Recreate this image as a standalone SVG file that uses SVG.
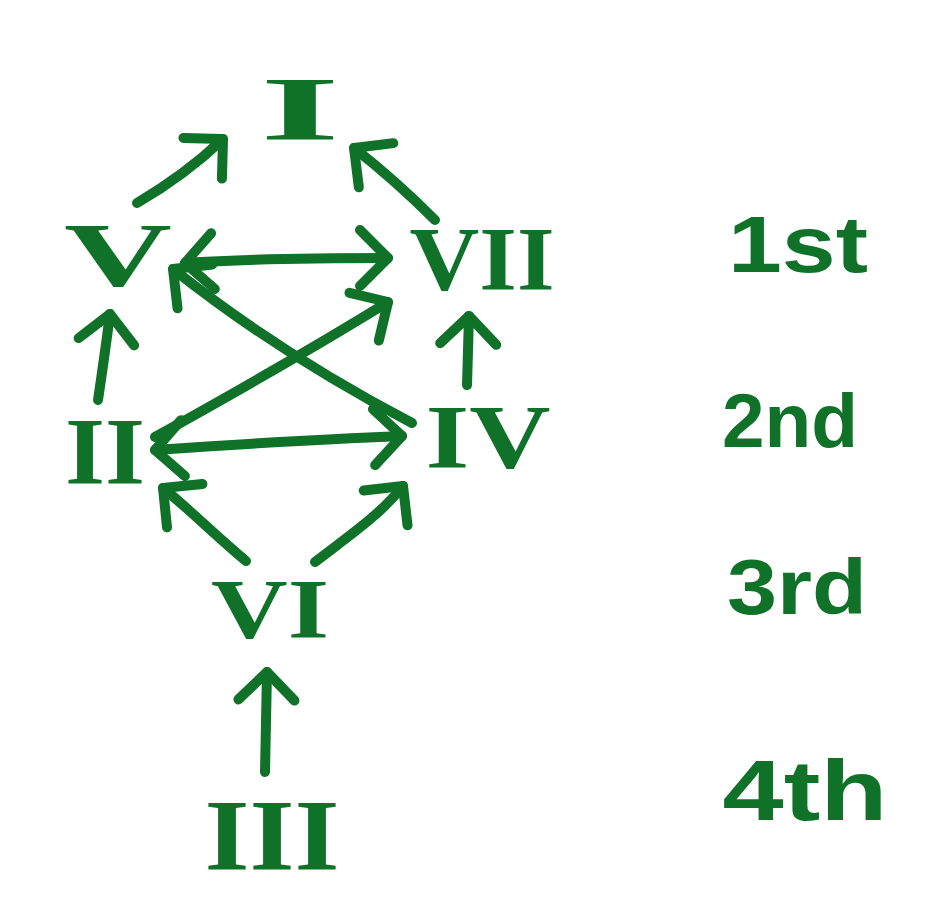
<svg xmlns="http://www.w3.org/2000/svg" width="930" height="922" viewBox="0 0 930 922">
<defs>
<style>
.bg{fill:#ffffff}
.edge{fill:none;stroke:#107229;stroke-width:10;stroke-linecap:round;stroke-linejoin:round;marker-end:url(#ah)}
.both{marker-start:url(#ah)}
.num{font-family:"Liberation Serif","Times New Roman",serif;font-weight:bold;fill:#107229;text-anchor:middle}
.ord{font-family:"Liberation Sans",Arial,sans-serif;font-weight:bold;fill:#107229;text-anchor:middle}
</style>
<marker id="ah" markerUnits="userSpaceOnUse" viewBox="-35 -35 45 70" markerWidth="45" markerHeight="70" refX="0" refY="0" orient="auto-start-reverse" overflow="visible">
<path d="M-28,-28 L0,0 L-28,28" fill="none" stroke="#107229" stroke-width="10" stroke-linecap="round" stroke-linejoin="round"/>
</marker>
</defs>
<rect class="bg" x="0" y="0" width="930" height="922"/>
<g id="connectors">
<path class="edge" d="M137,203 Q185,175 223,139"/>
<path class="edge" d="M435,220 Q395,180 354,148"/>
<path class="edge both" d="M185,263 Q260,258 388,258"/>
<path class="edge" d="M412,423 C330,380 250,330 173,269"/>
<path class="edge" d="M155,437 C240,390 310,350 388,302"/>
<path class="edge both" d="M155,450 Q300,440 402,436"/>
<path class="edge" d="M98,400 Q104,360 110,314"/>
<path class="edge" d="M467,385 L469,316"/>
<path class="edge" d="M246,561 C215,535 190,510 163,488"/>
<path class="edge" d="M315,562 C350,535 380,515 403,486"/>
<path class="edge" d="M265,772 L267,672"/>
</g>
<g id="node-I"><text class="num" x="300" y="140" font-size="90" textLength="80" lengthAdjust="spacingAndGlyphs">I</text></g>
<g id="node-V"><text class="num" x="118" y="286" font-size="90" textLength="108" lengthAdjust="spacingAndGlyphs">V</text></g>
<g id="node-VII"><text class="num" x="482" y="290" font-size="90" textLength="145" lengthAdjust="spacingAndGlyphs">VII</text></g>
<g id="node-II"><text class="num" x="105" y="484" font-size="95" textLength="80" lengthAdjust="spacingAndGlyphs">II</text></g>
<g id="node-IV"><text class="num" x="488" y="468" font-size="90" textLength="125" lengthAdjust="spacingAndGlyphs">IV</text></g>
<g id="node-VI"><text class="num" x="270" y="638" font-size="85" textLength="118" lengthAdjust="spacingAndGlyphs">VI</text></g>
<g id="node-III"><text class="num" x="272" y="870" font-size="102" textLength="135" lengthAdjust="spacingAndGlyphs">III</text></g>
<g id="label-1st"><text class="ord" x="798" y="272" font-size="80" textLength="140" lengthAdjust="spacingAndGlyphs">1st</text></g>
<g id="label-2nd"><text class="ord" x="790" y="447" font-size="76" textLength="136" lengthAdjust="spacingAndGlyphs">2nd</text></g>
<g id="label-3rd"><text class="ord" x="797" y="614" font-size="78" textLength="140" lengthAdjust="spacingAndGlyphs">3rd</text></g>
<g id="label-4th"><text class="ord" x="805" y="820" font-size="85" textLength="165" lengthAdjust="spacingAndGlyphs">4th</text></g>
</svg>
